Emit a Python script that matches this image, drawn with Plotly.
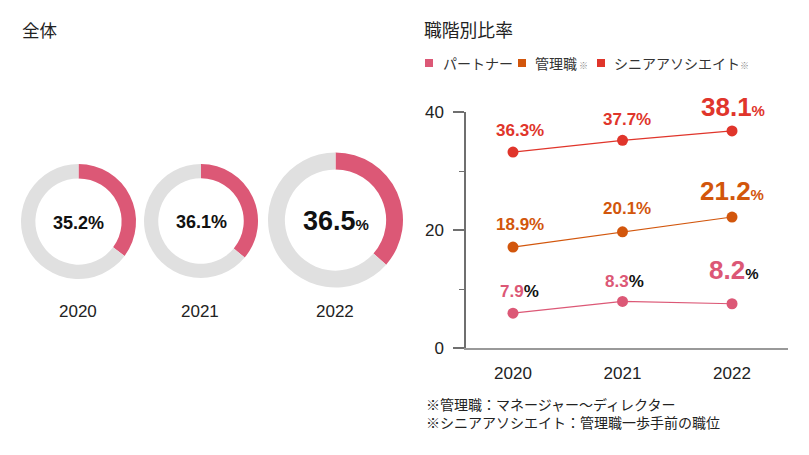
import plotly.graph_objects as go

W, H = 809, 455

# ---------------- data ----------------
years = ["2020", "2021", "2022"]
overall_pct = [35.2, 36.1, 36.5]

series_names = ["パートナー", "管理職", "シニアアソシエイト"]
partner_labels = [7.9, 8.3, 8.2]
manager_labels = [18.9, 20.1, 21.2]
senior_labels = [36.3, 37.7, 38.1]
partner_plotted = [5.9, 7.9, 7.5]
manager_plotted = [17.1, 19.7, 22.2]
senior_plotted = [33.2, 35.2, 36.8]

y_ticks = [0, 20, 40]
footnotes = ["※管理職：マネージャー～ディレクター",
             "※シニアアソシエイト：管理職一歩手前の職位"]

# ---------------- style ----------------
PINK = "#dc5876"
ORANGE = "#d2560c"
RED = "#e0352b"
GRAY = "#e0e0e0"
TXT = "#111111"
NUM_FONT = "Liberation Sans, Arial, sans-serif"
JP_FONT = "Noto Sans CJK JP, sans-serif"

OFF = 8  # page body margin of the html page


def px(x):
    return (x - OFF) / W


def py(y):
    return 1 - (y - OFF) / H


fig = go.Figure()

# ---------------- donuts ----------------
donut_boxes = [(21, 136, 164, 279), (144, 258, 164, 278), (268, 403, 152.5, 287.5)]
for i, (v, (x0, x1, y0, y1)) in enumerate(zip(overall_pct, donut_boxes)):
    fig.add_trace(go.Pie(
        values=[v, 100 - v],
        labels=["a", "b"],
        marker=dict(colors=[PINK, GRAY], line=dict(width=0)),
        hole=0.75,
        sort=False,
        direction="clockwise",
        rotation=0,
        textinfo="none",
        hoverinfo="skip",
        showlegend=False,
        domain=dict(x=[px(x0), px(x1)], y=[py(y1), py(y0)]),
    ))
    cx, cy = (x0 + x1) / 2, (y0 + y1) / 2
    if i == len(overall_pct) - 1:
        txt = f"<b><span style='font-size:27px'>{v}</span><span style='font-size:15px'>%</span></b>"
    else:
        txt = f"<b>{v}%</b>"
    fig.add_annotation(x=px(cx), y=py(cy + 1), xref="paper", yref="paper",
                       text=txt, showarrow=False, xanchor="center", yanchor="middle",
                       font=dict(family=NUM_FONT, size=18, color=TXT))
    fig.add_annotation(x=px(cx - 1), y=py(311), xref="paper", yref="paper",
                       text=years[i], showarrow=False, xanchor="center", yanchor="middle",
                       font=dict(family=NUM_FONT, size=17, color="#222"))

# ---------------- lines ----------------
xidx = list(range(len(years)))
colors = [PINK, ORANGE, RED]
plotted = [partner_plotted, manager_plotted, senior_plotted]
labels = [partner_labels, manager_labels, senior_labels]
for name, col, ys in zip(series_names, colors, plotted):
    fig.add_trace(go.Scatter(
        x=xidx, y=ys, name=name, mode="lines+markers",
        line=dict(color=col, width=1.2),
        marker=dict(color=col, size=11),
        cliponaxis=False, showlegend=False, hoverinfo="skip",
        xaxis="x", yaxis="y",
    ))

# label offsets (pixels) relative to markers
yshifts = [[22, 20, 34], [23, 23, 26], [22, 21, 24]]
xshifts = [[7, 2, 2], [7, 4, 0], [7, 4, 1]]
for s, (col, ys, labs) in enumerate(zip(colors, plotted, labels)):
    for j, (yv, lv) in enumerate(zip(ys, labs)):
        big = j == len(years) - 1
        pct_col = TXT if s == 0 else col
        if big:
            txt = (f"<b><span style='font-size:26px;color:{col}'>{lv}</span>"
                   f"<span style='font-size:15px;color:{pct_col}'>%</span></b>")
        else:
            txt = (f"<b><span style='color:{col}'>{lv}</span>"
                   f"<span style='color:{pct_col}'>%</span></b>")
        fig.add_annotation(x=xidx[j], y=yv, xref="x", yref="y", text=txt, showarrow=False,
                           xanchor="center", yanchor="middle",
                           xshift=xshifts[s][j], yshift=yshifts[s][j],
                           font=dict(family=NUM_FONT, size=17, color=col))

# ---------------- titles, legend, footnotes ----------------
fig.add_annotation(x=px(20), y=py(29), xref="paper", yref="paper", text="全体",
                   showarrow=False, xanchor="left", yanchor="middle",
                   font=dict(family=JP_FONT, size=17.5, color="#222"))
fig.add_annotation(x=px(422), y=py(29), xref="paper", yref="paper", text="職階別比率",
                   showarrow=False, xanchor="left", yanchor="middle",
                   font=dict(family=JP_FONT, size=17.8, color="#222"))

legend_sq_x = [429, 522, 601]
legend_txt_x = [441, 533, 612]
for name, col, sx, tx, note in zip(series_names, colors, legend_sq_x, legend_txt_x, ["", "※", "※"]):
    fig.add_shape(type="rect", xref="paper", yref="paper",
                  x0=px(sx - 4), x1=px(sx + 4), y0=py(67), y1=py(59),
                  fillcolor=col, line=dict(width=0))
    t = name
    if note:
        sp = " " if name == "管理職" else ""
        t += f"<span style='font-size:9px;color:#888'>{sp}{note}</span>"
    fig.add_annotation(x=px(tx), y=py(63), xref="paper", yref="paper", text=t,
                       showarrow=False, xanchor="left", yanchor="middle",
                       font=dict(family=JP_FONT, size=14, color="#333"))

fig.add_annotation(x=px(424), y=py(412.5), xref="paper", yref="paper",
                   text="<br>".join(footnotes),
                   showarrow=False, xanchor="left", yanchor="middle", align="left",
                   font=dict(family=JP_FONT, size=14, color="#222"))

# ---------------- layout ----------------
fig.update_layout(
    width=W, height=H,
    margin=dict(l=0, r=0, t=0, b=0, autoexpand=False),
    paper_bgcolor="white", plot_bgcolor="white",
    showlegend=False,
    xaxis=dict(domain=[px(466), px(788)], range=[-0.429, 2.511],
               tickvals=xidx, ticktext=years,
               showgrid=False, zeroline=False,
               showline=True, linecolor="#999", linewidth=1.5,
               ticks="", ticklabelstandoff=9, automargin=False,
               tickfont=dict(family=NUM_FONT, size=17, color="#222"),
               anchor="y", fixedrange=True),
    yaxis=dict(domain=[py(348), py(112)], range=[0, 40],
               tickvals=y_ticks, showgrid=False, zeroline=False,
               showline=True, linecolor="#6f6f6f", linewidth=1.5,
               ticks="outside", ticklen=11, tickcolor="#6f6f6f", tickwidth=1.5,
               minor=dict(ticks="outside", ticklen=5, dtick=10, tick0=0,
                          tickcolor="#6f6f6f", tickwidth=1.2),
               ticklabelstandoff=6, automargin=False,
               tickfont=dict(family=NUM_FONT, size=17, color="#222"),
               anchor="x", fixedrange=True),
)

fig.write_html("out.html")
